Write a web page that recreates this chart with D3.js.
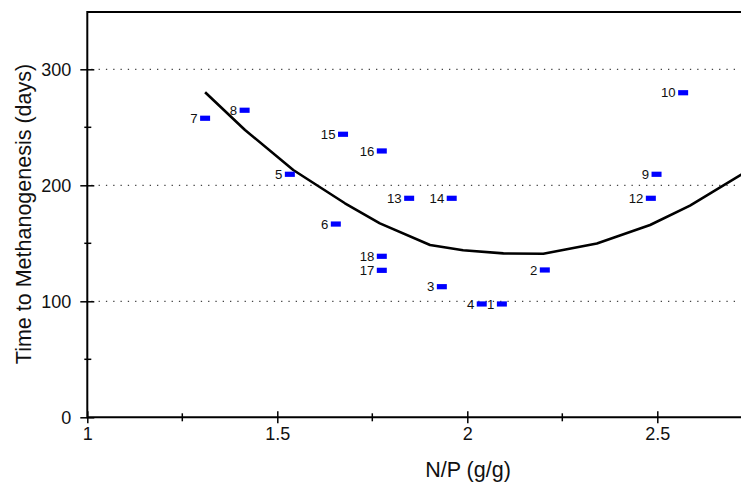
<!DOCTYPE html>
<html>
<head>
<meta charset="utf-8">
<script src="https://cdn.jsdelivr.net/npm/d3@7"></script>
<style>
  body { margin: 0; background: #fff; }
  text { font-family: Arial, "Liberation Sans", sans-serif; fill: #111; }
</style>
</head>
<body>
<svg width="741" height="486"></svg>
<script>
(function () {
  'use strict';

  // sample points (label, N/P ratio, days)
  var sampleIds = ["1","2","3","4","5","6","7","8","9","10","12","13","14","15","16","17","18"];
  var sampleNP  = [2.091, 2.204, 1.933, 2.038, 1.533, 1.654, 1.310, 1.414, 2.498, 2.568, 2.483, 1.847, 1.959, 1.673, 1.775, 1.775, 1.775];
  var sampleDays = [97.7, 127, 112.6, 97.7, 209.5, 166.6, 257.8, 264.7, 209.5, 279.8, 188.8, 188.8, 188.8, 244, 229.6, 126.7, 138.8];

  // fitted curve
  var fitNP   = [1.310, 1.415, 1.542, 1.678, 1.770, 1.902, 1.989, 2.095, 2.200, 2.341, 2.481, 2.586, 2.75];
  var fitDays = [280.2, 247.7, 213.2, 184.5, 167.2, 148.5, 144, 141.3, 141, 149.9, 165.8, 182.5, 215];

  var xMajor = [1, 1.5, 2, 2.5];
  var xMinor = [1.25, 1.75, 2.25, 2.75];
  var yMajor = [0, 100, 200, 300];
  var yMinor = [50, 150, 250];

  var svg = d3.select("svg"),
      width = +svg.attr("width"),
      height = +svg.attr("height");

  var margin = {left: 87.3, top: 12, bottom: 417.3};

  var x = d3.scaleLinear().domain([1, 1 + (width - margin.left) / 380]).range([margin.left, width]);
  var y = d3.scaleLinear().domain([0, 100]).range([margin.bottom, margin.bottom - 116]);

  svg.append("clipPath").attr("id", "plot")
    .append("rect").attr("x", margin.left).attr("y", margin.top)
    .attr("width", width - margin.left).attr("height", margin.bottom - margin.top);

  // dotted grid lines
  svg.selectAll(".grid").data(yMajor.filter(function(d) { return d > 0; }))
    .enter().append("line")
      .attr("x1", margin.left + 4).attr("x2", width)
      .attr("y1", function(d) { return y(d); }).attr("y2", function(d) { return y(d); })
      .attr("stroke", "#444").attr("stroke-width", 1.2)
      .attr("stroke-dasharray", "1.3,6");

  // axes drawn with d3 axis, then lines restyled
  var xAxis = svg.append("g")
      .attr("transform", "translate(0," + margin.bottom + ")")
      .call(d3.axisBottom(x).tickValues(xMajor).tickSize(6).tickFormat(d3.format("")));
  xAxis.select(".domain").remove();
  xAxis.selectAll(".tick line").attr("y1", -6).attr("stroke", "#000").attr("stroke-width", 1.5);
  xAxis.selectAll(".tick text").attr("y", 23).attr("dy", 0).attr("font-size", 18);

  svg.append("g").selectAll("line").data(xMinor).enter().append("line")
      .attr("x1", function(d) { return x(d); }).attr("x2", function(d) { return x(d); })
      .attr("y1", margin.bottom - 4).attr("y2", margin.bottom + 4)
      .attr("stroke", "#000").attr("stroke-width", 1.5);

  var yAxis = svg.append("g")
      .attr("transform", "translate(" + margin.left + ",0)")
      .call(d3.axisLeft(y).tickValues(yMajor).tickSize(7));
  yAxis.select(".domain").remove();
  yAxis.selectAll(".tick line").attr("x1", 7).attr("stroke", "#000").attr("stroke-width", 1.5);
  yAxis.selectAll(".tick text").attr("x", -16).attr("dy", "0.36em").attr("font-size", 18);

  svg.append("g").selectAll("line").data(yMinor).enter().append("line")
      .attr("y1", function(d) { return y(d); }).attr("y2", function(d) { return y(d); })
      .attr("x1", margin.left - 3).attr("x2", margin.left + 4)
      .attr("stroke", "#000").attr("stroke-width", 1.5);

  // frame lines: left, bottom, top
  svg.append("path")
      .attr("d", "M" + width + "," + margin.top + "H" + margin.left + "V" + margin.bottom + "H" + width)
      .attr("fill", "none").attr("stroke", "#000").attr("stroke-width", 2);

  // fitted curve
  var line = d3.line()
      .x(function(d, i) { return x(fitNP[i]); })
      .y(function(d, i) { return y(fitDays[i]); });

  svg.append("path")
      .datum(fitNP)
      .attr("clip-path", "url(#plot)")
      .attr("d", line)
      .attr("fill", "none").attr("stroke", "#000").attr("stroke-width", 2.6)
      .attr("stroke-linejoin", "round");

  // markers + labels
  var pts = svg.append("g").selectAll("g")
      .data(sampleIds)
      .enter().append("g")
        .attr("transform", function(d, i) { return "translate(" + x(sampleNP[i]) + "," + y(sampleDays[i]) + ")"; });

  pts.append("rect")
      .attr("x", -5).attr("y", -2.6).attr("width", 10).attr("height", 5.2)
      .attr("fill", "#0000ff");

  pts.append("text")
      .attr("x", -7.5).attr("dy", "0.36em")
      .attr("text-anchor", "end").attr("font-size", 13.2)
      .text(function(d) { return d; });

  // axis titles
  svg.append("text")
      .attr("x", 468).attr("y", 477)
      .attr("text-anchor", "middle").attr("font-size", 21.5)
      .text("N/P (g/g)");

  svg.append("text")
      .attr("transform", "translate(31,214) rotate(-90)")
      .attr("text-anchor", "middle").attr("font-size", 21.5)
      .text("Time to Methanogenesis (days)");
}());
</script>
</body>
</html>
